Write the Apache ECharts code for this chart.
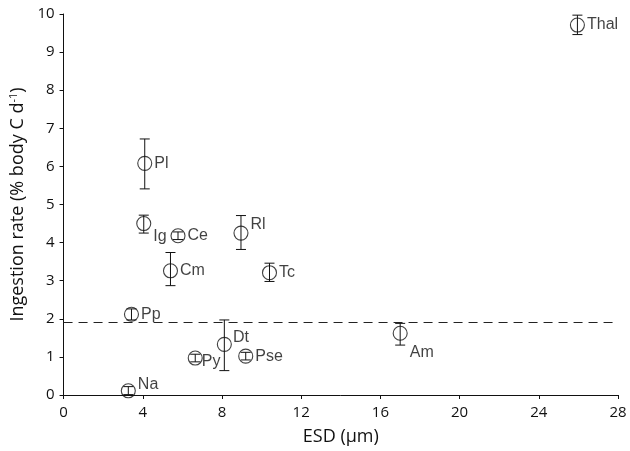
<!DOCTYPE html>
<html>
<head>
<meta charset="utf-8">
<script src="https://cdn.jsdelivr.net/npm/echarts@6/dist/echarts.min.js"></script>
<style>
  html, body { margin: 0; padding: 0; background: #fff; }
  #main { width: 630px; height: 451px; }
</style>
</head>
<body>
<div id="main"></div>
<script>
// taxa, ESD (µm), ingestion rate and error bar ends
const taxa = ['Na', 'Pp', 'Ig', 'Pl', 'Ce', 'Cm', 'Py', 'Dt', 'Pse', 'Rl', 'Tc', 'Am', 'Thal']
const esd = [3.27, 3.43, 4.05, 4.1, 5.78, 5.4, 6.65, 8.12, 9.2, 8.96, 10.4, 17.0, 25.95]
const rate = [0.11, 2.12, 4.5, 6.08, 4.18, 3.26, 0.97, 1.33, 1.02, 4.25, 3.21, 1.62, 9.71]
const errLow = [0.01, 1.97, 4.25, 5.41, 4.08, 2.87, 0.87, 0.64, 0.92, 3.82, 2.98, 1.31, 9.46]
const errHigh = [0.22, 2.26, 4.72, 6.72, 4.28, 3.74, 1.07, 1.97, 1.12, 4.71, 3.46, 1.88, 9.97]
const threshold = 1.92
const xTicks = [0, 4, 8, 12, 16, 20, 24, 28]

// where each label sits next to its circle
const labelOffset = {
  Na: [0, -6], Ig: [0, 13], Rl: [0, -8], Dt: [-1, -7], Py: [-3, 4], Am: [0, 19]
}

const myChart = echarts.init(document.getElementById('main'))

const points = taxa.map((name, i) => ({
  name: name,
  value: [esd[i], rate[i]],
  label: { offset: labelOffset[name] || [0, 0] }
}))
const bars = taxa.map((name, i) => [esd[i], errLow[i], errHigh[i]])

const option = {
  backgroundColor: '#fff',
  animation: false,
  textStyle: { fontFamily: 'Open Sans' },
  grid: { left: 61, right: 12, top: 14, bottom: 56 },
  xAxis: {
    type: 'value',
    min: 0,
    max: 28,
    interval: 4,
    name: 'ESD (μm)',
    nameLocation: 'middle',
    nameGap: 33,
    nameTextStyle: { color: '#111', fontSize: 18, fontFamily: 'Open Sans' },
    axisLine: { lineStyle: { color: '#111', width: 1 } },
    axisTick: { show: true, length: 4, lineStyle: { color: '#111' } },
    axisLabel: {
      color: '#111', fontSize: 15, margin: 10,
      formatter: v => xTicks.includes(v) ? String(v) : ''
    },
    splitLine: { show: false }
  },
  yAxis: {
    type: 'value',
    min: 0,
    max: 10,
    interval: 1,
    name: 'Ingestion rate (% body C d{sup|-1})',
    nameLocation: 'middle',
    nameGap: 34,
    nameTextStyle: {
      color: '#111', fontSize: 18, fontFamily: 'Open Sans',
      rich: { sup: { fontSize: 11, verticalAlign: 'top', padding: [0, 0, 8, 0], color: '#111', fontFamily: 'Open Sans' } }
    },
    axisLine: { show: true, lineStyle: { color: '#111', width: 1 } },
    axisTick: { show: true, length: 4, lineStyle: { color: '#111' } },
    axisLabel: { color: '#111', fontSize: 15, margin: 9 },
    splitLine: { show: false }
  },
  series: [
    {
      type: 'custom',
      data: bars,
      z: 3,
      renderItem: (params, api) => {
        const x = api.value(0)
        const lo = api.coord([x, api.value(1)])
        const hi = api.coord([x, api.value(2)])
        const half = 5
        const style = { stroke: '#111', lineWidth: 1 }
        return {
          type: 'group',
          children: [
            { type: 'line', shape: { x1: lo[0], y1: lo[1], x2: hi[0], y2: hi[1] }, style },
            { type: 'line', shape: { x1: lo[0] - half, y1: lo[1], x2: lo[0] + half, y2: lo[1] }, style },
            { type: 'line', shape: { x1: hi[0] - half, y1: hi[1], x2: hi[0] + half, y2: hi[1] }, style }
          ]
        }
      }
    },
    {
      type: 'scatter',
      data: points,
      z: 4,
      symbol: 'circle',
      symbolSize: 14,
      itemStyle: { color: 'rgba(255,255,255,0)', borderColor: '#111', borderWidth: 1.1 },
      label: {
        show: true,
        position: 'right',
        distance: 2,
        formatter: '{b}',
        color: '#111',
        fontSize: 16,
        fontFamily: 'Liberation Sans'
      },
      markLine: {
        silent: true,
        symbol: 'none',
        label: { show: false },
        lineStyle: { color: '#222', type: [9, 6], width: 1.1 },
        data: [[{ coord: [0, threshold] }, { coord: [28, threshold] }]]
      }
    }
  ]
}

myChart.setOption(option)
</script>
</body>
</html>
